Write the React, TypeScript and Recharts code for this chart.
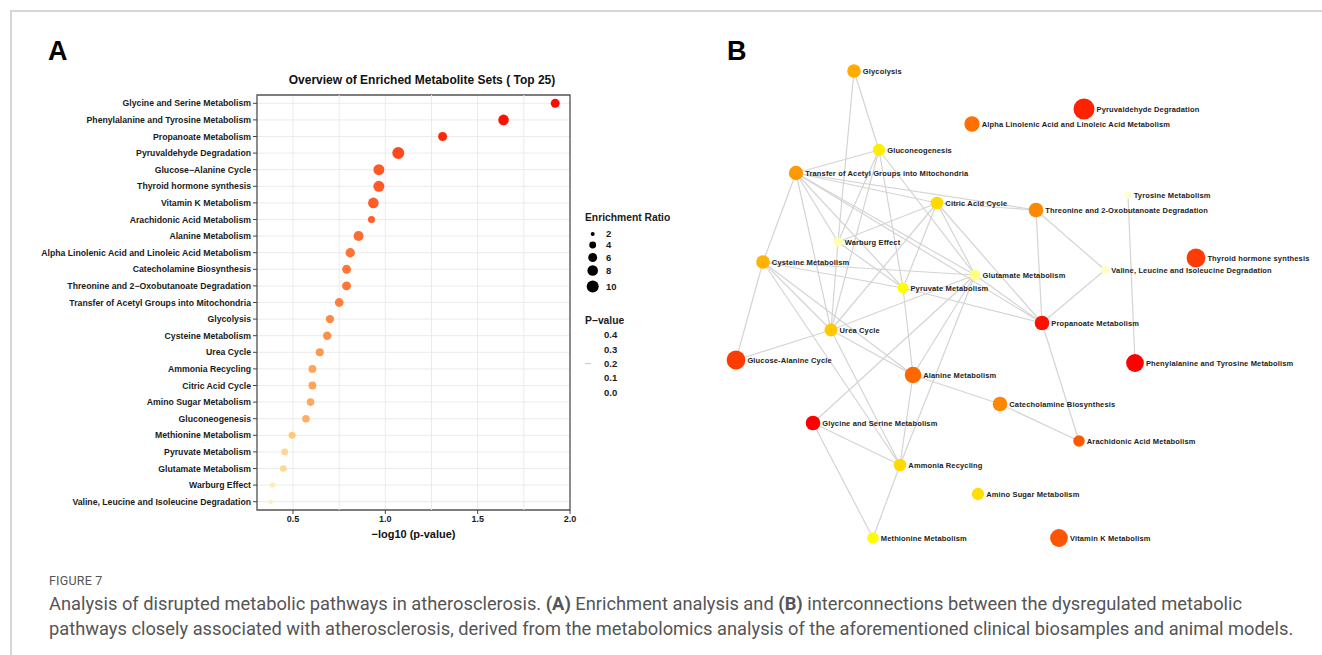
import { ScatterChart, Scatter, XAxis, YAxis, ZAxis, CartesianGrid, Cell, ReferenceLine, ReferenceArea, Legend } from 'recharts'

// Panel A: top 25 enriched metabolite sets (top to bottom)
const pathways = [
  'Glycine and Serine Metabolism',
  'Phenylalanine and Tyrosine Metabolism',
  'Propanoate Metabolism',
  'Pyruvaldehyde Degradation',
  'Glucose-Alanine Cycle',
  'Thyroid hormone synthesis',
  'Vitamin K Metabolism',
  'Arachidonic Acid Metabolism',
  'Alanine Metabolism',
  'Alpha Linolenic Acid and Linoleic Acid Metabolism',
  'Catecholamine Biosynthesis',
  'Threonine and 2-Oxobutanoate Degradation',
  'Transfer of Acetyl Groups into Mitochondria',
  'Glycolysis',
  'Cysteine Metabolism',
  'Urea Cycle',
  'Ammonia Recycling',
  'Citric Acid Cycle',
  'Amino Sugar Metabolism',
  'Gluconeogenesis',
  'Methionine Metabolism',
  'Pyruvate Metabolism',
  'Glutamate Metabolism',
  'Warburg Effect',
  'Valine, Leucine and Isoleucine Degradation',
]

const negLog10P = [
  1.92, 1.64, 1.31, 1.07, 0.965, 0.965, 0.935, 0.925, 0.855, 0.81, 0.79, 0.79, 0.75,
  0.7, 0.685, 0.645, 0.605, 0.605, 0.595, 0.57, 0.495, 0.455, 0.447, 0.388, 0.379,
]

const enrichmentRatio = [
  6.0, 8.0, 6.0, 10.0, 8.6, 8.6, 8.0, 4.1, 7.2, 6.5, 6.0, 6.0, 5.8,
  5.4, 5.4, 5.0, 4.8, 4.8, 4.6, 4.6, 4.1, 3.7, 3.7, 2.8, 2.3,
]

const xTicks = [0.5, 1.0, 1.5, 2.0]
const minorX = [0.75, 1.25, 1.75]
const sizeLegend = [2, 4, 6, 8, 10]
const pLegend = ['0.4', '0.3', '0.2', '0.1', '0.0']

// Panel B: network (one extra pathway not in the top 25)
const extraPathways = ['Tyrosine Metabolism']
const extraNegLog10P = [0.33]
const extraEnrichment = [1.5]

const networkNodes = [
  'Glycolysis', 'Pyruvaldehyde Degradation', 'Alpha Linolenic Acid and Linoleic Acid Metabolism',
  'Gluconeogenesis', 'Transfer of Acetyl Groups into Mitochondria', 'Tyrosine Metabolism',
  'Citric Acid Cycle', 'Threonine and 2-Oxobutanoate Degradation', 'Warburg Effect',
  'Cysteine Metabolism', 'Thyroid hormone synthesis', 'Glutamate Metabolism',
  'Valine, Leucine and Isoleucine Degradation', 'Pyruvate Metabolism', 'Propanoate Metabolism',
  'Urea Cycle', 'Glucose-Alanine Cycle', 'Phenylalanine and Tyrosine Metabolism',
  'Alanine Metabolism', 'Catecholamine Biosynthesis', 'Glycine and Serine Metabolism',
  'Arachidonic Acid Metabolism', 'Ammonia Recycling', 'Amino Sugar Metabolism',
  'Methionine Metabolism', 'Vitamin K Metabolism',
]
// layout coordinates of the network
const nodeX = [154, 384, 272, 179, 96, 428, 237, 336, 138, 63, 496, 275, 405, 203, 342, 131, 36, 435, 213, 300, 113, 379, 200, 278, 173, 359]
const nodeY = [31, 69, 84, 110, 133, 155, 163, 170, 202, 222, 218, 235, 230, 248, 283, 290, 320, 323, 335, 364, 383, 401, 425, 454, 498, 498]

const edges = [
  ['Glycolysis', 'Gluconeogenesis'],
  ['Glycolysis', 'Warburg Effect'],
  ['Gluconeogenesis', 'Transfer of Acetyl Groups into Mitochondria'],
  ['Gluconeogenesis', 'Warburg Effect'],
  ['Gluconeogenesis', 'Pyruvate Metabolism'],
  ['Gluconeogenesis', 'Glutamate Metabolism'],
  ['Gluconeogenesis', 'Urea Cycle'],
  ['Transfer of Acetyl Groups into Mitochondria', 'Citric Acid Cycle'],
  ['Transfer of Acetyl Groups into Mitochondria', 'Threonine and 2-Oxobutanoate Degradation'],
  ['Transfer of Acetyl Groups into Mitochondria', 'Cysteine Metabolism'],
  ['Transfer of Acetyl Groups into Mitochondria', 'Warburg Effect'],
  ['Transfer of Acetyl Groups into Mitochondria', 'Pyruvate Metabolism'],
  ['Transfer of Acetyl Groups into Mitochondria', 'Glutamate Metabolism'],
  ['Transfer of Acetyl Groups into Mitochondria', 'Urea Cycle'],
  ['Transfer of Acetyl Groups into Mitochondria', 'Propanoate Metabolism'],
  ['Citric Acid Cycle', 'Threonine and 2-Oxobutanoate Degradation'],
  ['Citric Acid Cycle', 'Warburg Effect'],
  ['Citric Acid Cycle', 'Pyruvate Metabolism'],
  ['Citric Acid Cycle', 'Glutamate Metabolism'],
  ['Citric Acid Cycle', 'Urea Cycle'],
  ['Citric Acid Cycle', 'Propanoate Metabolism'],
  ['Cysteine Metabolism', 'Glutamate Metabolism'],
  ['Cysteine Metabolism', 'Pyruvate Metabolism'],
  ['Cysteine Metabolism', 'Urea Cycle'],
  ['Cysteine Metabolism', 'Glucose-Alanine Cycle'],
  ['Cysteine Metabolism', 'Alanine Metabolism'],
  ['Cysteine Metabolism', 'Ammonia Recycling'],
  ['Warburg Effect', 'Pyruvate Metabolism'],
  ['Warburg Effect', 'Urea Cycle'],
  ['Threonine and 2-Oxobutanoate Degradation', 'Valine, Leucine and Isoleucine Degradation'],
  ['Threonine and 2-Oxobutanoate Degradation', 'Propanoate Metabolism'],
  ['Tyrosine Metabolism', 'Phenylalanine and Tyrosine Metabolism'],
  ['Glutamate Metabolism', 'Propanoate Metabolism'],
  ['Glutamate Metabolism', 'Alanine Metabolism'],
  ['Glutamate Metabolism', 'Ammonia Recycling'],
  ['Glutamate Metabolism', 'Urea Cycle'],
  ['Glutamate Metabolism', 'Glycine and Serine Metabolism'],
  ['Valine, Leucine and Isoleucine Degradation', 'Propanoate Metabolism'],
  ['Pyruvate Metabolism', 'Propanoate Metabolism'],
  ['Pyruvate Metabolism', 'Alanine Metabolism'],
  ['Urea Cycle', 'Glucose-Alanine Cycle'],
  ['Urea Cycle', 'Alanine Metabolism'],
  ['Urea Cycle', 'Ammonia Recycling'],
  ['Alanine Metabolism', 'Ammonia Recycling'],
  ['Alanine Metabolism', 'Catecholamine Biosynthesis'],
  ['Catecholamine Biosynthesis', 'Arachidonic Acid Metabolism'],
  ['Propanoate Metabolism', 'Arachidonic Acid Metabolism'],
  ['Glycine and Serine Metabolism', 'Ammonia Recycling'],
  ['Glycine and Serine Metabolism', 'Methionine Metabolism'],
  ['Ammonia Recycling', 'Methionine Metabolism'],
]

const FONT = '"Liberation Sans", Arial, sans-serif'

const lerpColor = (stops: [number, number[]][], v: number) => {
  if (v <= stops[0][0]) return `rgb(${stops[0][1].join(',')})`
  for (let i = 1; i < stops.length; i++) {
    if (v <= stops[i][0]) {
      const [a, ca] = stops[i - 1]
      const [b, cb] = stops[i]
      const t = (v - a) / (b - a)
      return `rgb(${ca.map((c, k) => Math.round(c + (cb[k] - c) * t)).join(',')})`
    }
  }
  return `rgb(${stops[stops.length - 1][1].join(',')})`
}

// p-value colour scale for panel A
const stopsA: [number, number[]][] = [
  [0, [255, 0, 0]], [0.05, [255, 40, 10]], [0.1, [255, 85, 35]], [0.15, [255, 112, 52]],
  [0.2, [255, 138, 68]], [0.25, [255, 165, 88]], [0.3, [255, 190, 112]], [0.35, [255, 214, 140]],
  [0.4, [255, 235, 170]], [0.45, [255, 248, 200]],
]
const colorA = (nlp: number) => lerpColor(stopsA, Math.pow(10, -nlp))

// panel B colour scale (on -log10 p)
const stopsB: [number, number[]][] = [
  [0.3, [255, 255, 216]], [0.38, [255, 255, 195]], [0.4, [255, 255, 153]], [0.447, [255, 255, 128]],
  [0.455, [255, 255, 0]], [0.5, [255, 250, 0]], [0.57, [255, 238, 0]], [0.6, [255, 220, 0]],
  [0.645, [255, 200, 0]], [0.69, [255, 176, 0]], [0.75, [255, 153, 0]], [0.79, [255, 136, 0]],
  [0.81, [255, 112, 0]], [0.86, [255, 102, 0]], [0.93, [255, 88, 0]], [0.965, [255, 60, 0]],
  [1.07, [255, 34, 0]], [1.3, [255, 16, 0]], [1.6, [255, 0, 0]],
]
const colorB = (nlp: number) => lerpColor(stopsB, nlp)

const dataA = pathways.map((name, i) => ({ name, rank: i, x: negLog10P[i], er: enrichmentRatio[i] }))

const allNames = [...pathways, ...extraPathways]
const allNlp = [...negLog10P, ...extraNegLog10P]
const allEr = [...enrichmentRatio, ...extraEnrichment]

const dataB = networkNodes.map((name, i) => {
  const k = allNames.indexOf(name)
  return { name, x: nodeX[i], y: nodeY[i], er: allEr[k], fill: colorB(allNlp[k]) }
})

const PathwayTick = (props: any) => {
  const { x, y, payload } = props
  const label = (pathways[payload.value] || '').replace(/-/g, '−')
  return (
    <text x={x} y={y} dy="0.35em" textAnchor="end" fontSize={8.7} fontWeight="bold" fill="#1a1a1a" fontFamily={FONT}>
      {label}
    </text>
  )
}

const EnrichLegend = () => (
  <svg width={120} height={200} style={{ fontFamily: FONT, overflow: 'visible' }}>
    <text x={5} y={16} fontSize={10.3} fontWeight="bold" fill="#1a1a1a">Enrichment Ratio</text>
    {sizeLegend.map((v, i) => {
      const r = Math.sqrt((12.6 + (v - 2) * 12.55) / Math.PI)
      const cy = [29, 40, 52.5, 65.5, 81.5][i]
      return (
        <g key={v}>
          <circle cx={12.7} cy={cy} r={r} fill="#000" />
          <text x={26} y={cy} dy="0.35em" fontSize={9.5} fontWeight="bold" fill="#1a1a1a">{v}</text>
        </g>
      )
    })}
    <text x={5} y={119} fontSize={10.3} fontWeight="bold" fill="#1a1a1a">P−value</text>
    {pLegend.map((v, i) => (
      <text key={v} x={24} y={130 + i * 14.3} dy="0.35em" fontSize={9.5} fontWeight="bold" fill="#1a1a1a">{v}</text>
    ))}
    <line x1={5} x2={11} y1={158.6} y2={158.6} stroke="#ffb4a0" strokeWidth={1} />
  </svg>
)

const NetworkNode = (props: any) => {
  const { cx, cy, payload } = props
  const r = 2.5 + 0.8 * payload.er
  return (
    <g>
      <circle cx={cx} cy={cy} r={r} fill={payload.fill} />
      <text x={cx + r + 2} y={cy} dy="0.35em" fontSize={7.5} letterSpacing={0.15} fontWeight="bold" fill="#222" fontFamily={FONT}>
        {payload.name}
      </text>
    </g>
  )
}

const idx = (name: string) => networkNodes.indexOf(name)

export default function App() {
  return (
    <div style={{ position: 'absolute', left: 0, top: 0, width: 1322, height: 655, background: '#fff', fontFamily: FONT, overflow: 'hidden' }}>
      <div style={{ position: 'absolute', left: 10, top: 10, width: 1312, height: 1.5, background: '#d6d6d6' }} />
      <div style={{ position: 'absolute', left: 10, top: 10, width: 1.5, height: 645, background: '#d6d6d6' }} />

      <div style={{ position: 'absolute', left: 48, top: 36, fontSize: 27, fontWeight: 'bold', color: '#000' }}>A</div>
      <div style={{ position: 'absolute', left: 727, top: 36, fontSize: 27, fontWeight: 'bold', color: '#000' }}>B</div>

      <div style={{ position: 'absolute', left: 0, top: 0 }}>
        <ScatterChart width={700} height={560} margin={{ top: 95, right: 130, bottom: 20, left: 0 }}>
          <CartesianGrid stroke="#ebebeb" strokeWidth={1} />
          {minorX.map((v) => (
            <ReferenceLine key={v} x={v} stroke="#ebebeb" strokeWidth={1} />
          ))}
          <XAxis
            type="number"
            dataKey="x"
            domain={[0.305, 2.0]}
            allowDataOverflow
            ticks={xTicks}
            tickFormatter={(v: number) => v.toFixed(1)}
            height={30}
            axisLine={false}
            tickLine={{ stroke: '#444' }}
            tickSize={4}
            tick={{ fontSize: 9, fontWeight: 'bold', fill: '#1a1a1a', fontFamily: FONT }}
            label={{ value: '−log10 (p-value)', position: 'insideBottom', offset: 2, fontSize: 11, fontWeight: 'bold', fill: '#111', fontFamily: FONT }}
          />
          <YAxis
            type="number"
            dataKey="rank"
            domain={[-0.5, 24.5]}
            reversed
            ticks={pathways.map((_, i) => i)}
            interval={0}
            width={257}
            axisLine={false}
            tickLine={{ stroke: '#444' }}
            tickSize={4}
            tickMargin={2}
            tick={<PathwayTick />}
          />
          <ZAxis type="number" dataKey="er" domain={[2, 10]} range={[12.6, 113]} />
          <ReferenceArea x1={0.305} x2={2.0} y1={-0.5} y2={24.5} fill="none" stroke="#555" strokeWidth={1.3} ifOverflow="visible" />
          <Scatter data={dataA} isAnimationActive={false}>
            {dataA.map((d, i) => (
              <Cell key={`cell-${i}`} fill={colorA(d.x)} />
            ))}
          </Scatter>
          <Legend
            layout="horizontal"
            align="center"
            verticalAlign="middle"
            wrapperStyle={{ left: 580, top: 205, width: 120 }}
            content={<EnrichLegend />}
          />
        </ScatterChart>
      </div>

      <div style={{ position: 'absolute', left: 272, top: 73, width: 300, textAlign: 'center', fontSize: 12, fontWeight: 'bold', color: '#111', whiteSpace: 'nowrap' }}>
        Overview of Enriched Metabolite Sets ( Top 25)
      </div>

      <div style={{ position: 'absolute', left: 700, top: 40 }}>
        <ScatterChart width={622} height={520} margin={{ top: 0, right: 0, bottom: 0, left: 0 }}>
          <XAxis type="number" dataKey="x" domain={[0, 622]} hide />
          <YAxis type="number" dataKey="y" domain={[0, 520]} reversed hide />
          {edges.map(([a, b], i) => (
            <ReferenceLine
              key={`edge-${i}`}
              segment={[{ x: nodeX[idx(a)], y: nodeY[idx(a)] }, { x: nodeX[idx(b)], y: nodeY[idx(b)] }]}
              stroke="#d4d4d4"
              strokeWidth={1.2}
              ifOverflow="visible"
            />
          ))}
          <Scatter data={dataB} shape={<NetworkNode />} isAnimationActive={false} />
        </ScatterChart>
      </div>

      <div style={{ position: 'absolute', left: 49, top: 573, fontSize: 12.5, color: '#555', fontFamily: 'Roboto, sans-serif', letterSpacing: 0.2 }}>
        FIGURE 7
      </div>
      <div style={{ position: 'absolute', left: 49, top: 591, fontSize: 18.3, lineHeight: '25px', color: '#555', fontFamily: 'Roboto, sans-serif', whiteSpace: 'nowrap' }}>
        Analysis of disrupted metabolic pathways in atherosclerosis. <b>(A)</b> Enrichment analysis and <b>(B)</b> interconnections between the dysregulated metabolic
        <br />
        pathways closely associated with atherosclerosis, derived from the metabolomics analysis of the aforementioned clinical biosamples and animal models.
      </div>
    </div>
  )
}
